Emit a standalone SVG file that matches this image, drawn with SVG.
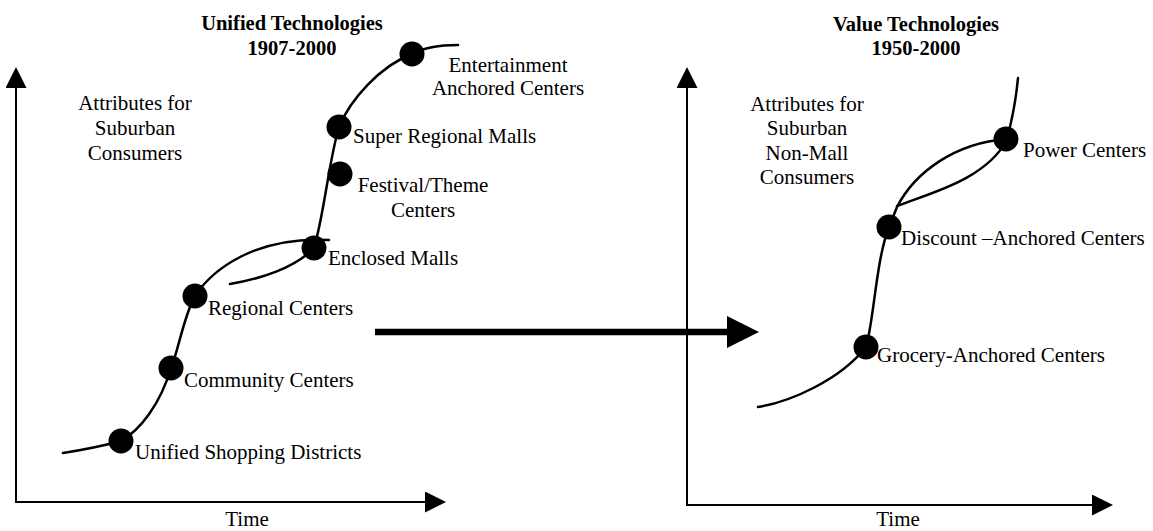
<svg xmlns="http://www.w3.org/2000/svg" width="1153" height="531" viewBox="0 0 1153 531">
  <style>
    text { font-family: "Liberation Serif", "Times New Roman", serif; font-size: 21px; fill: #000; }
    .title { font-weight: bold; font-size: 20.5px; text-anchor: middle; }
    .mid { text-anchor: middle; }
    .curve { fill: none; stroke: #000; stroke-width: 2.5; stroke-linecap: round; }
    .axis { fill: none; stroke: #000; stroke-width: 2; marker-start: url(#axisHead); marker-end: url(#axisHead); }
    .dot { fill: #000; }
  </style>
  <defs>
    <marker id="axisHead" viewBox="0 0 21 21" refX="3" refY="10.5" markerWidth="21" markerHeight="21" markerUnits="userSpaceOnUse" orient="auto-start-reverse">
      <path d="M0,0 L21,10.5 L0,21 z" fill="#000"/>
    </marker>
    <marker id="bigHead" viewBox="0 0 32 32" refX="3" refY="16" markerWidth="32" markerHeight="32" markerUnits="userSpaceOnUse" orient="auto">
      <path d="M0,0 L32,16 L0,32 z" fill="#000"/>
    </marker>
  </defs>

  <!-- titles -->
  <g id="title-unified">
    <text class="title" x="292" y="30">Unified Technologies</text>
    <text class="title" x="292" y="55">1907-2000</text>
  </g>
  <g id="title-value">
    <text class="title" x="916" y="31">Value Technologies</text>
    <text class="title" x="916" y="55">1950-2000</text>
  </g>

  <!-- axis captions -->
  <g id="yaxis-left-label">
    <text class="mid" x="135" y="110">Attributes for</text>
    <text class="mid" x="135" y="135">Suburban</text>
    <text class="mid" x="135" y="160">Consumers</text>
  </g>
  <g id="yaxis-right-label">
    <text class="mid" x="807" y="111">Attributes for</text>
    <text class="mid" x="807" y="135">Suburban</text>
    <text class="mid" x="807" y="160">Non-Mall</text>
    <text class="mid" x="807" y="184">Consumers</text>
  </g>
  <g id="xaxis-left-label"><text class="mid" x="247" y="526">Time</text></g>
  <g id="xaxis-right-label"><text class="mid" x="898" y="526">Time</text></g>

  <!-- connectors: axes, S-curves and the transition arrow -->
  <g id="connectors">
    <path class="axis" d="M16,85 L16,502 L428,502"/>
    <path class="axis" d="M687,85 L687,505 L1095,505"/>
    <path d="M375,332 L730,332" stroke="#000" stroke-width="6.5" fill="none" marker-end="url(#bigHead)"/>

    <!-- unified technologies curve -->
    <path class="curve" d="M63,453 Q95,448 121,441 C140,430 160,405 171,368 C178,352 184,315 195,296 C212,270 255,236 329,240"/>
    <path class="curve" d="M230,284 C260,279 295,268 314,248"/>
    <path class="curve" d="M314,248 C324,215 329,160 339,127 C350,100 380,66 412,54 C425,47 440,45 458,45"/>

    <!-- value technologies curve -->
    <path class="curve" d="M758,407 C790,402 840,380 866,347 C874,320 876,260 889,227 C893,217 895,212 897,207 C915,172 955,143 1007,139"/>
    <path class="curve" d="M897,206 C930,193 985,180 1007,140"/>
    <path class="curve" d="M1007,139 C1012,120 1016,100 1018,78"/>
  </g>

  <!-- unified technology stages -->
  <g id="unified-shopping-districts">
    <circle class="dot" cx="121" cy="441" r="12.5"/>
    <text x="135" y="459">Unified Shopping Districts</text>
  </g>
  <g id="community-centers">
    <circle class="dot" cx="171" cy="368" r="12.5"/>
    <text x="184" y="387">Community Centers</text>
  </g>
  <g id="regional-centers">
    <circle class="dot" cx="195" cy="296" r="12.5"/>
    <text x="208" y="315">Regional Centers</text>
  </g>
  <g id="enclosed-malls">
    <circle class="dot" cx="314" cy="248" r="12.5"/>
    <text x="328" y="265">Enclosed Malls</text>
  </g>
  <g id="festival-theme-centers">
    <circle class="dot" cx="340" cy="174" r="12.5"/>
    <text class="mid" x="423" y="192">Festival/Theme</text>
    <text class="mid" x="423" y="217">Centers</text>
  </g>
  <g id="super-regional-malls">
    <circle class="dot" cx="339" cy="127" r="12.5"/>
    <text x="353" y="143">Super Regional Malls</text>
  </g>
  <g id="entertainment-anchored-centers">
    <circle class="dot" cx="412" cy="54" r="12.5"/>
    <text class="mid" x="508" y="72">Entertainment</text>
    <text class="mid" x="508" y="95">Anchored Centers</text>
  </g>

  <!-- value technology stages -->
  <g id="grocery-anchored-centers">
    <circle class="dot" cx="866" cy="347" r="12.5"/>
    <text x="877" y="362">Grocery-Anchored Centers</text>
  </g>
  <g id="discount-anchored-centers">
    <circle class="dot" cx="889" cy="227" r="12.5"/>
    <text x="901" y="245">Discount –Anchored Centers</text>
  </g>
  <g id="power-centers">
    <circle class="dot" cx="1006" cy="139" r="12.5"/>
    <text x="1023" y="157">Power Centers</text>
  </g>
</svg>
